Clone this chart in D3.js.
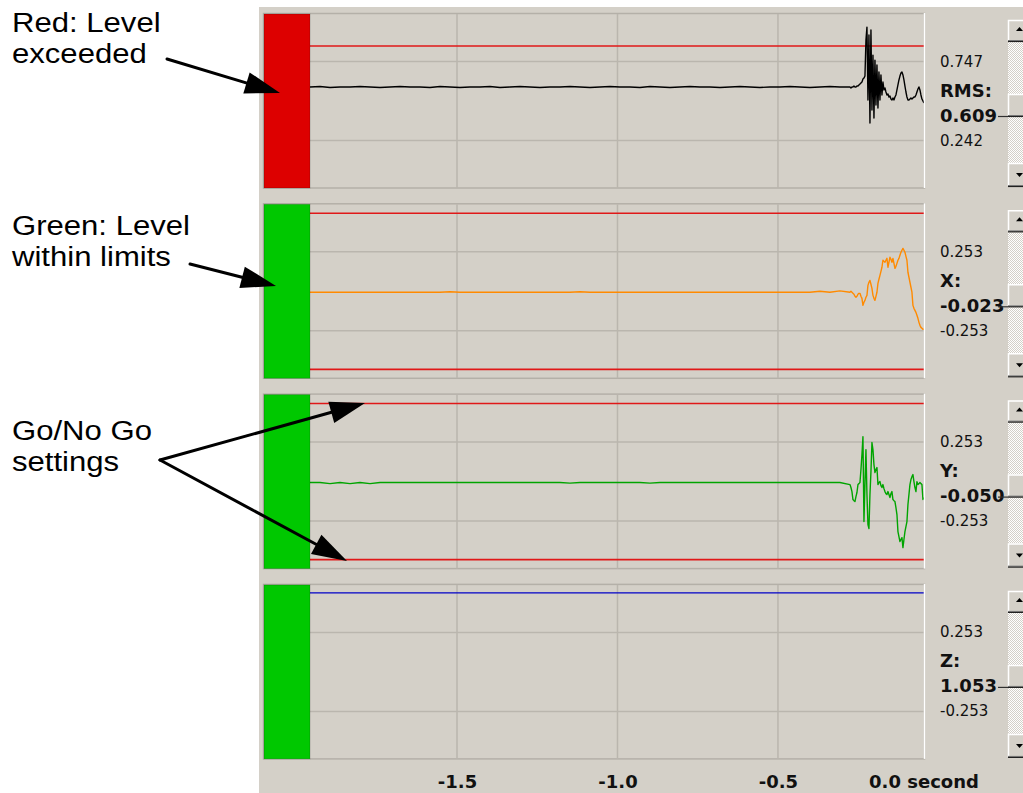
<!DOCTYPE html>
<html>
<head>
<meta charset="utf-8">
<script src="https://cdn.jsdelivr.net/npm/d3@7"></script>
<style>
  html, body { margin: 0; padding: 0; background: #ffffff; }
  svg { display: block; }
</style>
</head>
<body>
<svg id="chart" width="1023" height="793"></svg>
<script>
// ---------------- data ----------------
const channelNames = ["RMS:", "X:", "Y:", "Z:"];
const readouts = ["0.609", "-0.023", "-0.050", "1.053"];
const channelStatus = ["exceeded", "ok", "ok", "ok"];
const gridValues = [[0.747, 0.242], [0.253, -0.253], [0.253, -0.253], [0.253, -0.253]];
const gridLabels = [["0.747", "0.242"], ["0.253", "-0.253"], ["0.253", "-0.253"], ["0.253", "-0.253"]];
const yDomains = [[-0.0105, 0.9995], [-0.506, 0.506], [-0.506, 0.506], [-0.506, 0.506]];
const limitValues = [[0.846], [0.5, -0.5], [0.5, -0.5], []];

const timeWindow = [-1.958, -0.045];        // seconds shown
const timeTicks = [-1.5, -1.0, -0.5];
const timeTickLabels = ["-1.5", "-1.0", "-0.5"];
const endLabel = "0.0 second";

// recorder sampling: coarse history, then fine capture around the event
const historyStart = -1.958, historyStep = 0.03115;
const eventStart = -0.2757, eventStep = 0.003115;

const rmsHistory = [
  0.584, 0.587, 0.581, 0.584, 0.584, 0.587, 0.584, 0.581, 0.584, 0.587,
  0.584, 0.584, 0.581, 0.587, 0.584, 0.581, 0.584, 0.584, 0.587, 0.581,
  0.584, 0.587, 0.584, 0.581, 0.584, 0.584, 0.587, 0.584, 0.581, 0.584,
  0.587, 0.584, 0.584, 0.581, 0.587, 0.584, 0.581, 0.584, 0.587, 0.584,
  0.584, 0.581, 0.584, 0.587, 0.584, 0.581, 0.584, 0.584, 0.587, 0.584,
  0.581, 0.584, 0.587, 0.584
];
const rmsEvent = [
  0.584, 0.578, 0.584, 0.584, 0.590, 0.584, 0.584, 0.590, 0.590, 0.597,
  0.603, 0.610, 0.616, 0.635, 0.641, 0.654, 0.884, 0.967, 0.501, 0.916,
  0.354, 0.948, 0.437, 0.788, 0.386, 0.756, 0.469, 0.725, 0.450, 0.680,
  0.501, 0.661, 0.533, 0.616, 0.565, 0.578, 0.552, 0.533, 0.539, 0.520,
  0.527, 0.507, 0.501, 0.514, 0.501, 0.520, 0.533, 0.565, 0.597, 0.629,
  0.654, 0.673, 0.680, 0.661, 0.629, 0.590, 0.552, 0.520, 0.501, 0.501,
  0.507, 0.514, 0.507, 0.514, 0.520, 0.520, 0.533, 0.552, 0.571, 0.584,
  0.565, 0.533, 0.507, 0.495, 0.482
];

const xHistory = [
  -0.006, -0.006, -0.006, -0.006, -0.006, -0.006, -0.006, -0.006, -0.006, -0.006,
  -0.006, -0.006, -0.006, -0.006, -0.003, -0.006, -0.006, -0.006, -0.006, -0.006,
  -0.006, -0.006, -0.006, -0.006, -0.006, -0.006, -0.006, -0.003, -0.006, -0.006,
  -0.006, -0.006, -0.006, -0.006, -0.006, -0.006, -0.006, -0.006, -0.006, -0.006,
  -0.006, -0.006, -0.006, -0.006, -0.006, -0.006, -0.006, -0.006, -0.006, -0.006,
  -0.006, 0.000, -0.006, 0.003
];
const xEvent = [
  -0.006, 0.000, -0.006, -0.013, -0.019, -0.032, -0.038, -0.032, -0.019, -0.013,
  -0.013, -0.032, -0.045, -0.090, -0.070, -0.058, -0.038, -0.026, 0.038, 0.058,
  0.070, 0.045, 0.019, -0.026, -0.045, -0.058, -0.032, -0.006, 0.051, 0.077,
  0.102, 0.128, 0.154, 0.199, 0.192, 0.186, 0.199, 0.211, 0.154, 0.186,
  0.218, 0.205, 0.186, 0.211, 0.179, 0.147, 0.160, 0.179, 0.199, 0.211,
  0.231, 0.250, 0.263, 0.275, 0.263, 0.250, 0.224, 0.199, 0.122, 0.090,
  0.058, 0.026, -0.006, -0.090, -0.109, -0.122, -0.135, -0.154, -0.173, -0.199,
  -0.218, -0.231, -0.237, -0.243, -0.243
];

const yHistory = [
  -0.006, -0.006, -0.013, -0.006, -0.013, -0.006, -0.013, -0.006, -0.006, -0.006,
  -0.006, -0.006, -0.006, -0.006, -0.006, -0.006, -0.006, -0.006, -0.006, -0.006,
  -0.006, -0.006, -0.006, -0.006, -0.006, -0.006, -0.010, -0.006, -0.006, -0.006,
  -0.006, -0.006, -0.006, -0.006, -0.010, -0.006, -0.006, -0.006, -0.006, -0.006,
  -0.006, -0.006, -0.006, -0.006, -0.006, -0.006, -0.006, -0.006, -0.006, -0.006,
  -0.006, -0.006, -0.006, -0.006
];
const yEvent = [
  -0.019, -0.038, -0.064, -0.115, -0.122, -0.128, -0.096, -0.070, -0.019, -0.013,
  -0.006, 0.077, 0.173, 0.288, -0.256, -0.019, 0.205, -0.083, -0.275, -0.301,
  -0.083, 0.064, 0.250, 0.205, 0.109, 0.058, 0.077, 0.090, -0.019, -0.006,
  0.000, -0.026, -0.038, -0.019, -0.045, -0.064, -0.077, -0.083, -0.064, -0.083,
  -0.102, -0.077, -0.064, -0.115, -0.122, -0.128, -0.167, -0.211, -0.320, -0.352,
  -0.384, -0.371, -0.359, -0.423, -0.371, -0.320, -0.288, -0.256, -0.147, -0.083,
  -0.019, 0.013, 0.032, 0.045, 0.000, -0.038, -0.064, 0.000, -0.019, -0.013,
  -0.006, -0.013, -0.019, -0.115, -0.102
];

// Z carries the 1 g offset and sits above the display range the whole time
const zStart = -1.958, zStep = 0.3188;
const zValues = [1.053, 1.053, 1.052, 1.053, 1.053, 1.054, 1.053];

const annotationLines = [["Red: Level", "exceeded"], ["Green: Level", "within limits"], ["Go/No Go", "settings"]];

// ---------------- styling / layout ----------------
const W = 1023, H = 793;
const BG = "#d4d0c8";
const GRID = "#bab6ae";
const signalColors = ["#000000", "#ff8a00", "#00a400", "#0000c8"];
const statusColors = { exceeded: "#dd0000", ok: "#00c800" };
const LIMIT = "#e01818";

const plotLeft = 310, plotRight = 924, frameLeft = 263;
const panelTop0 = 14, panelPitch = 190.3, panelH = 174, inset = 8;
const labelX = 940;
const numFont = "'DejaVu Sans', Verdana, sans-serif";

const svg = d3.select("#chart");
const defs = svg.append("defs");

// checkered scrollbar track
const pat = defs.append("pattern").attr("id", "track").attr("width", 2).attr("height", 2)
  .attr("patternUnits", "userSpaceOnUse");
pat.append("rect").attr("width", 2).attr("height", 2).attr("fill", "#ffffff");
pat.append("rect").attr("width", 1).attr("height", 1).attr("fill", BG);
pat.append("rect").attr("x", 1).attr("y", 1).attr("width", 1).attr("height", 1).attr("fill", BG);

svg.append("rect").attr("width", W).attr("height", H).attr("fill", "#ffffff");
svg.append("rect").attr("x", 259).attr("y", 7).attr("width", W - 259).attr("height", H - 7).attr("fill", BG);

const x = d3.scaleLinear().domain(timeWindow).range([plotLeft, plotRight]);

function samples(start, step, values) {
  return values.map((v, k) => ({ t: start + k * step, v }));
}
const series = [
  samples(historyStart, historyStep, rmsHistory).concat(samples(eventStart, eventStep, rmsEvent)),
  samples(historyStart, historyStep, xHistory).concat(samples(eventStart, eventStep, xEvent)),
  samples(historyStart, historyStep, yHistory).concat(samples(eventStart, eventStep, yEvent)),
  samples(zStart, zStep, zValues)
];

channelNames.forEach((name, i) => {
  const top = panelTop0 + i * panelPitch;
  const bottom = top + panelH;
  const y = d3.scaleLinear().domain(yDomains[i]).range([bottom - inset, top + inset]).clamp(true);
  const g = svg.append("g").attr("class", "panel");

  // frame
  g.append("rect").attr("x", frameLeft + 0.5).attr("y", top - 0.5)
    .attr("width", plotRight - frameLeft).attr("height", panelH + 0.5)
    .attr("fill", BG).attr("stroke", "#b4b0a8").attr("stroke-width", 1.5);

  // grid
  g.selectAll(".hgrid").data(gridValues[i]).join("line")
    .attr("x1", plotLeft).attr("x2", plotRight)
    .attr("y1", d => y(d)).attr("y2", d => y(d))
    .attr("stroke", GRID).attr("stroke-width", 1.5);
  g.selectAll(".vgrid").data(timeTicks).join("line")
    .attr("x1", d => x(d)).attr("x2", d => x(d))
    .attr("y1", top).attr("y2", bottom)
    .attr("stroke", GRID).attr("stroke-width", 1.5);

  // clip for traces
  const clipId = "clip" + i;
  defs.append("clipPath").attr("id", clipId).append("rect")
    .attr("x", plotLeft).attr("y", top).attr("width", plotRight - plotLeft).attr("height", panelH);
  const plot = g.append("g").attr("clip-path", `url(#${clipId})`);

  // Go/No Go limit lines
  plot.selectAll(".limit").data(limitValues[i]).join("line")
    .attr("x1", plotLeft).attr("x2", plotRight)
    .attr("y1", d => y(d)).attr("y2", d => y(d))
    .attr("stroke", LIMIT).attr("stroke-width", 1.6);

  // trace
  const line = d3.line().x(d => x(d.t)).y(d => y(d.v));
  plot.append("path").datum(series[i]).attr("d", line)
    .attr("fill", "none").attr("stroke", signalColors[i])
    .attr("stroke-width", 1.4).attr("stroke-linejoin", "round");

  // status indicator
  g.append("rect").attr("x", frameLeft + 1).attr("y", top)
    .attr("width", plotLeft - frameLeft - 1).attr("height", panelH)
    .attr("fill", statusColors[channelStatus[i]])
    .attr("stroke", "rgba(0,0,0,0.18)").attr("stroke-width", 1);

  // right edge highlight
  g.append("line").attr("x1", plotRight + 0.5).attr("x2", plotRight + 0.5)
    .attr("y1", top - 1).attr("y2", bottom).attr("stroke", "#ffffff").attr("stroke-width", 1.5);

  // scale labels and readout
  const mid = (yDomains[i][0] + yDomains[i][1]) / 2;
  g.selectAll(".glabel").data(gridValues[i]).join("text")
    .attr("x", labelX).attr("y", d => y(d) + 5)
    .attr("font-family", numFont).attr("font-size", 15).attr("fill", "#111")
    .text((d, k) => gridLabels[i][k]);
  g.append("text").attr("x", labelX).attr("y", y(mid) - 4.5)
    .attr("font-family", numFont).attr("font-size", 18).attr("font-weight", "bold").attr("fill", "#111")
    .text(name);
  g.append("text").attr("x", labelX).attr("y", y(mid) + 20.5)
    .attr("font-family", numFont).attr("font-size", 18).attr("font-weight", "bold").attr("fill", "#111")
    .text(readouts[i]);

  // scrollbar
  const sx = 1008, sw = 22;
  const sb = g.append("g");
  sb.append("rect").attr("x", sx).attr("y", top + 28).attr("width", sw).attr("height", 121).attr("fill", "url(#track)");
  function button(y0, h, arrow) {
    sb.append("rect").attr("x", sx).attr("y", y0).attr("width", sw).attr("height", h).attr("fill", BG);
    sb.append("path").attr("d", `M${sx + 0.5},${y0 + h - 1}V${y0 + 0.5}H${sx + sw}`)
      .attr("fill", "none").attr("stroke", "#ffffff").attr("stroke-width", 1.5);
    sb.append("line").attr("x1", sx).attr("x2", sx + sw).attr("y1", y0 + h - 1.5).attr("y2", y0 + h - 1.5)
      .attr("stroke", "#808080").attr("stroke-width", 1);
    sb.append("line").attr("x1", sx).attr("x2", sx + sw).attr("y1", y0 + h - 0.5).attr("y2", y0 + h - 0.5)
      .attr("stroke", "#202020").attr("stroke-width", 1.2);
    if (arrow === "up") {
      const cx = 1019.5, cy = y0 + 9;
      sb.append("path").attr("d", `M${cx},${cy - 2}L${cx + 3.5},${cy + 2}L${cx - 3.5},${cy + 2}Z`).attr("fill", "#000");
    } else if (arrow === "down") {
      const cx = 1019.5, cy = y0 + 12;
      sb.append("path").attr("d", `M${cx - 3.5},${cy - 2}L${cx + 3.5},${cy - 2}L${cx},${cy + 2}Z`).attr("fill", "#000");
    }
  }
  button(top + 6, 22, "up");
  button(top + 80, 23, null);
  button(top + 149, 24, "down");
  // pointer from readout to thumb
  sb.append("line").attr("x1", 998).attr("x2", sx).attr("y1", top + 102.5).attr("y2", top + 102.5)
    .attr("stroke", "#303030").attr("stroke-width", 1.2);
});

// time axis
const axisY = 770;
const axis = d3.axisBottom(x).tickValues(timeTicks)
  .tickFormat((d, k) => timeTickLabels[k]).tickSize(0).tickPadding(0);
const ax = svg.append("g").attr("transform", `translate(0,${axisY})`).call(axis);
ax.select(".domain").remove();
ax.selectAll("text").attr("dy", null).attr("y", 18)
  .attr("font-family", numFont).attr("font-size", 18).attr("font-weight", "bold").attr("fill", "#111");
svg.append("text").attr("x", x(timeWindow[1])).attr("y", axisY + 18).attr("text-anchor", "middle")
  .attr("font-family", numFont).attr("font-size", 18).attr("font-weight", "bold").attr("fill", "#111")
  .text(endLabel);

// ---------------- callouts ----------------
const notes = svg.append("g").attr("font-family", "'Liberation Sans', Arial, Helvetica, sans-serif")
  .attr("font-size", 28).attr("fill", "#000");
const noteBaselines = [32, 235, 440];
annotationLines.forEach((lines, k) => {
  lines.forEach((s, j) => {
    notes.append("text")
      .attr("transform", `translate(12,${noteBaselines[k] + j * 31}) scale(1.11,1)`)
      .text(s);
  });
});

const arrows = [
  { from: [167, 59], to: [280, 93] },
  { from: [190, 264], to: [276, 286] },
  { from: [160, 460], to: [365, 403] },
  { from: [160, 460], to: [347, 561] }
];
arrows.forEach(({ from, to }) => {
  const a = Math.atan2(to[1] - from[1], to[0] - from[0]);
  const L = 35, hw = 11;
  const bx = to[0] - L * Math.cos(a), by = to[1] - L * Math.sin(a);
  notes.append("line").attr("x1", from[0]).attr("y1", from[1])
    .attr("x2", bx + 4 * Math.cos(a)).attr("y2", by + 4 * Math.sin(a))
    .attr("stroke", "#000").attr("stroke-width", 3).attr("stroke-linecap", "round");
  notes.append("path")
    .attr("d", `M${to[0]},${to[1]}L${bx - hw * Math.sin(a)},${by + hw * Math.cos(a)}L${bx + hw * Math.sin(a)},${by - hw * Math.cos(a)}Z`)
    .attr("fill", "#000");
});
</script>
</body>
</html>
